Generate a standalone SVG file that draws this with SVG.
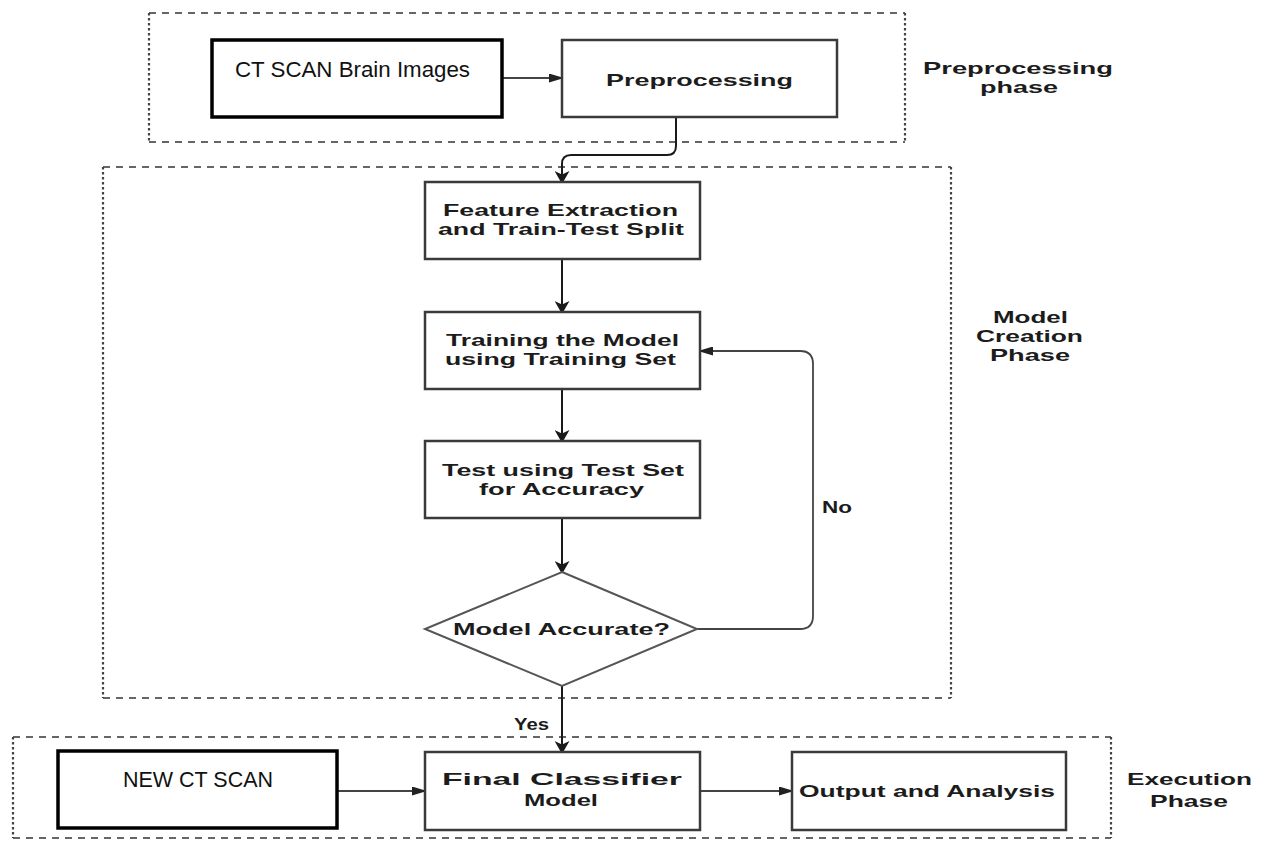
<svg xmlns="http://www.w3.org/2000/svg" width="1264" height="841" viewBox="0 0 1264 841">
  <defs>
    <style>
      .frame-h { fill: none; stroke: #666; stroke-width: 2; stroke-dasharray: 7 6; }
      .frame-v { fill: none; stroke: #444; stroke-width: 2.2; stroke-dasharray: 2.5 2.5; }
      .box { fill: #fff; stroke: #3a3a3a; stroke-width: 2.5; }
      .box-in { fill: #fff; stroke: #000; stroke-width: 3.5; }
      .diamond { fill: #fff; stroke: #555; stroke-width: 2; }
      .flow { fill: none; stroke: #1a1a1a; stroke-width: 2; }
      .flow-thin { fill: none; stroke: #444; stroke-width: 1.8; }
      .lbl { font-family: "Liberation Sans", Arial, sans-serif; font-weight: bold; font-size: 16.5px; fill: #1c1c1c; }
      .plain { font-family: "Liberation Sans", Arial, sans-serif; font-size: 22px; fill: #111; }
    </style>
    <marker id="headV" markerUnits="userSpaceOnUse" markerWidth="13" markerHeight="15" viewBox="0 0 13 15" refX="10" refY="7.5" orient="auto">
      <path d="M0,0 L13,7.5 L0,15 L3.5,7.5 z" fill="#1a1a1a"/>
    </marker>
    <marker id="headH" markerUnits="userSpaceOnUse" markerWidth="15" markerHeight="9" viewBox="0 0 15 9" refX="12" refY="4.5" orient="auto">
      <path d="M0,0 L15,4.5 L0,9 z" fill="#222"/>
    </marker>
  </defs>

  <rect width="1264" height="841" fill="#fff"/>

  <!-- phase frames: dashed horizontals, dotted verticals -->
  <g id="phase-preprocessing">
    <path class="frame-h" d="M149,13 H905 M149,142 H905"/>
    <path class="frame-v" d="M149,13 V142 M905,13 V142"/>
    <text class="lbl" x="923" y="74" textLength="190" lengthAdjust="spacingAndGlyphs">Preprocessing</text>
    <text class="lbl" x="980" y="93" textLength="78" lengthAdjust="spacingAndGlyphs">phase</text>
  </g>
  <g id="phase-model-creation">
    <path class="frame-h" d="M103,167 H951 M103,698 H951"/>
    <path class="frame-v" d="M103,167 V698 M951,167 V698"/>
    <text class="lbl" x="993" y="323" textLength="75" lengthAdjust="spacingAndGlyphs">Model</text>
    <text class="lbl" x="976" y="342" textLength="107" lengthAdjust="spacingAndGlyphs">Creation</text>
    <text class="lbl" x="990" y="361" textLength="80" lengthAdjust="spacingAndGlyphs">Phase</text>
  </g>
  <g id="phase-execution">
    <path class="frame-h" d="M13,737 H1111 M13,838 H1111"/>
    <path class="frame-v" d="M13,737 V838 M1111,737 V838"/>
    <text class="lbl" x="1127" y="785" textLength="125" lengthAdjust="spacingAndGlyphs">Execution</text>
    <text class="lbl" x="1150" y="807" textLength="78" lengthAdjust="spacingAndGlyphs">Phase</text>
  </g>

  <!-- connectors -->
  <g id="connectors">
    <path class="flow-thin" d="M502,78 H561" marker-end="url(#headH)"/>
    <path class="flow" d="M676,117 V146 Q676,155 667,155 H571 Q562,155 562,164 V181" marker-end="url(#headV)"/>
    <path class="flow" d="M562,259 V311" marker-end="url(#headV)"/>
    <path class="flow" d="M562,389 V440" marker-end="url(#headV)"/>
    <path class="flow" d="M562,518 V571" marker-end="url(#headV)"/>
    <path class="flow-thin" d="M697,629 H800 Q813,629 813,616 V364 Q813,351 800,351 H701" marker-end="url(#headH)"/>
    <path class="flow" d="M562,686 V751" marker-end="url(#headV)"/>
    <path class="flow-thin" d="M337,791 H424" marker-end="url(#headH)"/>
    <path class="flow-thin" d="M700,791 H791" marker-end="url(#headH)"/>
    <text class="lbl" x="822" y="513" textLength="30" lengthAdjust="spacingAndGlyphs">No</text>
    <text class="lbl" x="514" y="730" textLength="35" lengthAdjust="spacingAndGlyphs">Yes</text>
  </g>

  <!-- nodes -->
  <g id="ct-scan-images">
    <rect class="box-in" x="212" y="40" width="290" height="77"/>
    <text class="plain" x="235" y="77" textLength="235" lengthAdjust="spacingAndGlyphs">CT SCAN Brain Images</text>
  </g>
  <g id="preprocessing">
    <rect class="box" x="562" y="40" width="275" height="77"/>
    <text class="lbl" x="606" y="86" textLength="187" lengthAdjust="spacingAndGlyphs">Preprocessing</text>
  </g>
  <g id="feature-extraction">
    <rect class="box" x="425" y="182" width="275" height="77"/>
    <text class="lbl" x="443" y="216" textLength="235" lengthAdjust="spacingAndGlyphs">Feature Extraction</text>
    <text class="lbl" x="438" y="235" textLength="246" lengthAdjust="spacingAndGlyphs">and Train-Test Split</text>
  </g>
  <g id="training">
    <rect class="box" x="425" y="312" width="275" height="77"/>
    <text class="lbl" x="446" y="346" textLength="233" lengthAdjust="spacingAndGlyphs">Training the Model</text>
    <text class="lbl" x="445" y="365" textLength="231" lengthAdjust="spacingAndGlyphs">using Training Set</text>
  </g>
  <g id="testing">
    <rect class="box" x="425" y="441" width="275" height="77"/>
    <text class="lbl" x="442" y="476" textLength="242" lengthAdjust="spacingAndGlyphs">Test using Test Set</text>
    <text class="lbl" x="479" y="495" textLength="165" lengthAdjust="spacingAndGlyphs">for Accuracy</text>
  </g>
  <g id="accuracy-check">
    <polygon class="diamond" points="562,572 697,629 562,686 425,629"/>
    <text class="lbl" x="453" y="635" textLength="217" lengthAdjust="spacingAndGlyphs">Model Accurate?</text>
  </g>
  <g id="new-ct-scan">
    <rect class="box-in" x="58" y="751" width="279" height="77"/>
    <text class="plain" x="123" y="787" textLength="150" lengthAdjust="spacingAndGlyphs">NEW CT SCAN</text>
  </g>
  <g id="final-classifier">
    <rect class="box" x="425" y="752" width="275" height="78"/>
    <text class="lbl" x="442" y="785" textLength="240" lengthAdjust="spacingAndGlyphs">Final Classifier</text>
    <text class="lbl" x="524" y="806" textLength="74" lengthAdjust="spacingAndGlyphs">Model</text>
  </g>
  <g id="output-analysis">
    <rect class="box" x="792" y="752" width="274" height="78"/>
    <text class="lbl" x="799" y="797" textLength="256" lengthAdjust="spacingAndGlyphs">Output and Analysis</text>
  </g>
</svg>
